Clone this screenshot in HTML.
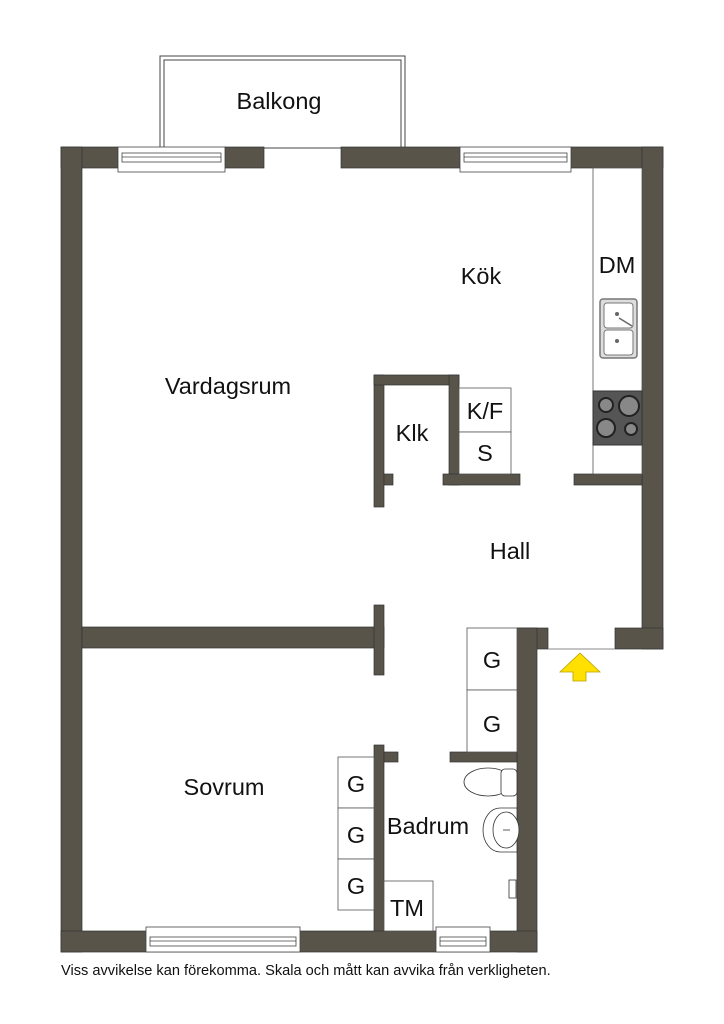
<!DOCTYPE html>
<html><head><meta charset="utf-8"><style>body{margin:0;background:#fff}svg{display:block}</style></head><body>
<svg width="724" height="1024" viewBox="0 0 724 1024" xmlns="http://www.w3.org/2000/svg" font-family="Liberation Sans, sans-serif">
<rect width="724" height="1024" fill="#fff"/>
<rect x="160" y="56" width="245" height="92" fill="#fff" stroke="#444" stroke-width="1"/>
<rect x="164" y="60" width="237" height="88" fill="none" stroke="#444" stroke-width="1"/>
<g fill="#58544a" stroke="#333" stroke-width="0.7">
<rect x="61" y="147" width="57" height="21"/>
<rect x="225" y="147" width="39" height="21"/>
<rect x="341" y="147" width="119" height="21"/>
<rect x="571" y="147" width="92" height="21"/>
<rect x="61" y="147" width="21" height="805"/>
<rect x="642" y="147" width="21" height="502"/>
<rect x="615" y="628" width="48" height="21"/>
<rect x="574" y="474" width="68" height="11"/>
<rect x="374" y="375" width="10" height="132"/>
<rect x="374" y="375" width="85" height="10"/>
<rect x="449" y="375" width="10" height="110"/>
<rect x="443" y="474" width="77" height="11"/>
<rect x="384" y="474" width="9" height="11"/>
<rect x="82" y="627" width="302" height="21"/>
<rect x="374" y="605" width="10" height="70"/>
<rect x="517" y="628" width="31" height="21"/>
<rect x="517" y="628" width="20" height="324"/>
<rect x="374" y="745" width="10" height="190"/>
<rect x="384" y="752" width="14" height="10"/>
<rect x="450" y="752" width="67" height="10"/>
<rect x="61" y="931" width="476" height="21"/>
</g>
<g fill="#fff" stroke="#444" stroke-width="0.8">
<rect x="118" y="147" width="107" height="25"/><rect x="122" y="153" width="99" height="9"/><line x1="122" y1="157" x2="221" y2="157"/>
<rect x="460" y="147" width="111" height="25"/><rect x="464" y="153" width="103" height="9"/><line x1="464" y1="157" x2="567" y2="157"/>
<rect x="146" y="927" width="154" height="25"/><rect x="150" y="937" width="146" height="9"/><line x1="150" y1="941" x2="296" y2="941"/>
<rect x="436" y="927" width="54" height="25"/><rect x="440" y="937" width="46" height="9"/><line x1="440" y1="941" x2="486" y2="941"/>
</g>
<line x1="548" y1="649" x2="615" y2="649" stroke="#888" stroke-width="1"/>
<g fill="#fff" stroke="#555" stroke-width="0.8">
<rect x="593" y="168" width="49" height="306"/>
</g>
<rect x="600" y="299" width="37" height="59" rx="3" fill="#ddd" stroke="#777" stroke-width="1.5"/>
<rect x="604" y="303" width="29" height="25" rx="3" fill="#fff" stroke="#777"/>
<rect x="604" y="330" width="29" height="25" rx="3" fill="#fff" stroke="#777"/>
<circle cx="617" cy="314" r="2" fill="#666"/><circle cx="617" cy="341" r="2" fill="#666"/>
<line x1="619" y1="318" x2="632" y2="326" stroke="#666" stroke-width="1.5"/>
<rect x="593" y="391" width="49" height="54" fill="#555" stroke="#333"/>
<g fill="#888" stroke="#222" stroke-width="2">
<circle cx="606" cy="405" r="7"/><circle cx="629" cy="406" r="10"/><circle cx="606" cy="428" r="9"/><circle cx="631" cy="429" r="6"/>
</g>
<g fill="#fff" stroke="#555" stroke-width="0.8">
<rect x="459" y="388" width="52" height="44"/><rect x="459" y="432" width="52" height="42"/>
<rect x="467" y="628" width="50" height="62"/><rect x="467" y="690" width="50" height="62"/>
<rect x="338" y="757" width="36" height="51"/><rect x="338" y="808" width="36" height="51"/><rect x="338" y="859" width="36" height="51"/>
<rect x="384" y="881" width="49" height="50"/>
</g>
<g fill="#fff" stroke="#333" stroke-width="0.8">
<ellipse cx="488" cy="782" rx="24" ry="14"/>
<rect x="501" y="769" width="16" height="27" rx="4"/>
<path d="M517 808 L500 808 A17 22 0 0 0 500 852 L517 852 Z"/>
<ellipse cx="506" cy="830" rx="13" ry="18"/>
<line x1="503" y1="830" x2="510" y2="830"/>
<rect x="509" y="880" width="7" height="18"/>
</g>
<polygon points="580,653 600,672 586,672 586,681 573,681 573,672 560,672" fill="#ffe000" stroke="#b8a000" stroke-width="0.8"/>
<g fill="#111" font-size="23.5" text-anchor="middle">
<text x="279" y="109">Balkong</text>
<text x="481" y="284">Kök</text>
<text x="617" y="273">DM</text>
<text x="228" y="394">Vardagsrum</text>
<text x="412" y="441">Klk</text>
<text x="485" y="419">K/F</text>
<text x="485" y="461">S</text>
<text x="510" y="559">Hall</text>
<text x="492" y="668">G</text>
<text x="492" y="732">G</text>
<text x="224" y="795">Sovrum</text>
<text x="356" y="792">G</text>
<text x="356" y="843">G</text>
<text x="356" y="894">G</text>
<text x="428" y="834">Badrum</text>
<text x="407" y="916">TM</text>
</g>
<text x="61" y="975" font-size="14.6" fill="#111">Viss avvikelse kan förekomma. Skala och mått kan avvika från verkligheten.</text>
</svg>
</body></html>
